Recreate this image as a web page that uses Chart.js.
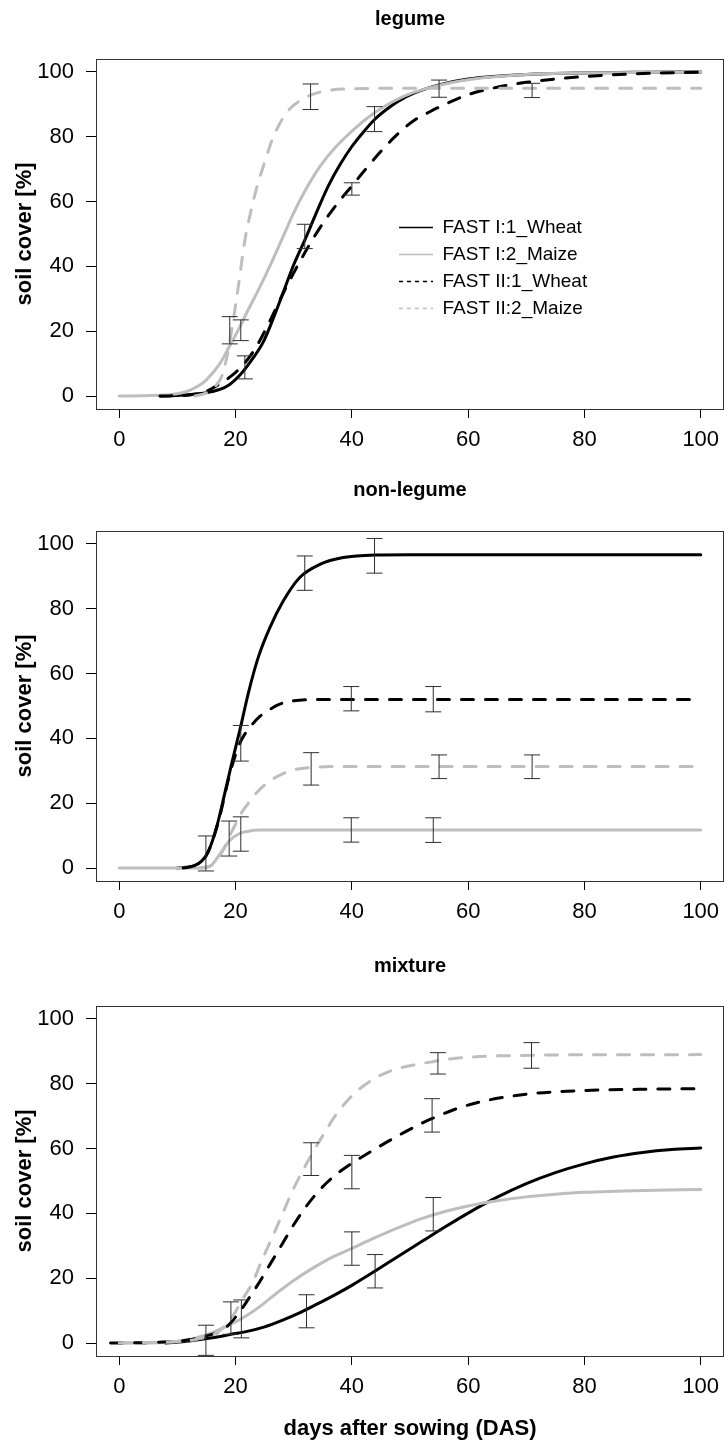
<!DOCTYPE html>
<html>
<head>
<meta charset="utf-8">
<script src="https://cdn.jsdelivr.net/npm/chart.js@4.4.1/dist/chart.umd.min.js"></script>
<style>
  html, body { margin: 0; padding: 0; background: #fff; }
  canvas { display: block; }
</style>
</head>
<body>
<canvas id="legume" width="724" height="470"></canvas>
<canvas id="nonLegume" width="724" height="470"></canvas>
<canvas id="mixture" width="724" height="503"></canvas>
<script>
// series (same order in every panel)
var seriesNames = ['FAST I:1_Wheat', 'FAST I:2_Maize', 'FAST II:1_Wheat', 'FAST II:2_Maize'];
var seriesColors = ['#000000', '#bebebe', '#000000', '#bebebe'];
var seriesDashed = [false, false, true, true];

var xTicks = [0, 20, 40, 60, 80, 100];
var yTicks = [0, 20, 40, 60, 80, 100];

// legume: fitted curves, [day, soil cover %]
var legI1 = [[7,0],[12,0.4],[16,1.4],[18.5,3],[20.8,6.6],[23,11.7],[24.8,16.8],[26.5,24],[28.2,32],[30,40.5],[32,48.5],[34,57],[36,65],[38,71.5],[40,77],[42,81.5],[44,85.5],[46,88.5],[48,91],[50.5,93.3],[55,96],[60,97.8],[70,99.2],[80,99.7],[90,99.9],[100,100]];
var legI2 = [[0,0],[8,0.3],[11.6,1.4],[13.5,3],[15,5],[17.3,10],[19,15.5],[20.5,20.5],[22,26],[24,33],[26,40.5],[28,48.5],[30,56.5],[32,63.5],[34.5,70.8],[37.3,77],[40.8,83],[43.6,87],[47,90.8],[50.5,93.6],[54,95.4],[60,97.6],[70,99.2],[80,99.7],[100,100]];
var legII1 = [[7,0],[12,0.3],[15,1.5],[17.5,4],[19.5,6.5],[21.5,10],[23.5,15],[26,23.5],[28,31],[30,38],[32,44.5],[34,50.5],[36,55.8],[38,60.5],[40,64.8],[42,69.2],[45,75.5],[47.5,80.2],[50.5,84.8],[53.5,87.8],[56,90],[60,93],[65,95.3],[70,96.8],[80,98.6],[90,99.5],[100,99.9]];
var legII2 = [[13,0],[15,1],[16.5,3],[17.6,6],[18.5,12],[19.3,20],[20,28],[20.8,38],[21.5,47],[22.5,56],[23.6,64],[24.8,71],[26.5,80],[28.8,87.5],[31.6,91.7],[35,94],[40,94.8],[50,95],[100,95]];
// legume: observations [day, low, high]
var legBars = [[19,16.1,24.5],[20.9,17.1,23.5],[21.6,5.3,12.4],[31.9,45.5,53],[32.9,88.4,96.3],[40,62,65.8],[43.9,81.6,89.3],[55,92.2,97.5],[71,92.1,96.5]];

// non-legume
var nonI1 = [[10,0],[13,0.8],[14.2,2.2],[15.3,5],[16.8,13],[18.2,23.5],[19.3,32],[20.8,43],[22.2,54],[23.9,65],[25.9,74.2],[28.2,82.4],[31,89.6],[34.5,93.7],[38.5,95.8],[44,96.6],[50,96.7],[100,96.7]];
var nonI2 = [[0,0],[14,0],[15.6,0.5],[17.3,4.3],[19,8.5],[20.5,10.5],[22,11.3],[24.2,11.7],[100,11.7]];
var nonII1 = [[11,0],[13,0.8],[15,4],[17,14],[19,29],[20,35],[21,39.5],[22.5,43.5],[24,46.5],[25.5,48.5],[27.5,50.5],[30,51.6],[35,52],[100,52]];
var nonII2 = [[14,0],[16,1],[17,3],[18,6],[19,10],[20,13.5],[21,17],[22,19.5],[23,22],[24.5,24.8],[26,27],[28,29],[30,30.3],[33,31],[37,31.3],[100,31.3]];
var nonBars = [[14.9,-0.9,9.9],[18.9,3.7,14.5],[20.9,33,44],[20.9,5.2,15.8],[31.9,85.7,96.3],[33,25.6,35.6],[39.9,48.5,56],[39.9,8,15.5],[43.9,91,101.7],[54,48.2,56],[54,7.9,15.5],[55,27.6,34.9],[71,27.6,34.9]];

// mixture
var mixI1 = [[8,0],[12,0.6],[16,1.6],[19,2.6],[22,3.6],[25,5],[28,7],[31,9.3],[34,12],[37,14.8],[40,17.8],[44,22.2],[48,26.8],[52,31.3],[56,35.8],[60,40.1],[65,45],[70,49.2],[75,52.6],[80,55.3],[85,57.4],[90,58.8],[95,59.7],[100,60.2]];
var mixI2 = [[0,0],[8,0.2],[13,1.5],[16,3.2],[18,4.8],[21,7.5],[24,11],[27,15.3],[30,19.3],[33,22.8],[36,25.9],[40,29.2],[44,32.5],[48,35.6],[52,38.4],[56,40.6],[60,42.3],[65,43.9],[70,45.1],[75,45.9],[80,46.5],[90,47.1],[100,47.4]];
var mixII1 = [[-1.5,0],[7.5,0.3],[12,1],[15,2.2],[18,4.3],[20,8],[22,13],[24,18.5],[26,24.5],[28,30.5],[30,36.5],[32,41.8],[34,46.3],[36,50],[38,53],[40,55.5],[43,58.8],[46,62],[49,65],[52,67.8],[55,70.2],[58,72.3],[62,74.4],[66,75.8],[71,77],[77,77.7],[83,78.1],[90,78.3],[100,78.5]];
var mixII2 = [[0,0],[10,0.5],[13.2,1.1],[17.2,3.7],[19.5,8.3],[21.2,13.5],[22.9,18.6],[24.6,25.8],[26.4,33],[28.1,40],[29.8,47],[31.5,53],[33.2,58.5],[35,64],[37.2,70.3],[39.5,75.3],[41.8,79.1],[44.7,82.4],[47.5,84.5],[50.4,85.7],[53.2,86.6],[56.7,87.6],[61.8,88.4],[67.5,88.7],[75,88.9],[100,89]];
var mixBars = [[14.9,-3.8,5.5],[19.2,2.7,12.7],[21,1.6,13.3],[32.2,4.7,14.9],[33,51.7,61.8],[40,47.6,57.9],[40,24,34.3],[44,17,27.3],[53.8,65.1,75.4],[54,34.6,44.9],[54.8,83,89.6],[70.9,84.8,92.7]];

var FONT = '"Liberation Sans", Arial, sans-serif';

function toXY(pairs) {
  return pairs.map(function (p) { return {x: p[0], y: p[1]}; });
}

// each bar: bottom point, top point, then a gap
function barPoints(bars) {
  var out = [];
  bars.forEach(function (b) {
    out.push({x: b[0], y: b[1]}, {x: b[0], y: b[2]}, {x: b[0], y: null});
  });
  return out;
}

var frame = {
  id: 'frame',
  beforeDatasetsDraw: function (chart) {
    var a = chart.chartArea, ctx = chart.ctx;
    ctx.save();
    ctx.strokeStyle = '#333';
    ctx.lineWidth = 1;
    ctx.strokeRect(Math.round(a.left) + 0.5, Math.round(a.top) + 0.5,
      Math.round(a.right - a.left) - 1, Math.round(a.bottom - a.top));
    ctx.restore();
  }
};

// move the legend to a spot inside the plot
var legendSpot = {
  id: 'legendSpot',
  afterLayout: function (chart, args, opts) {
    var lg = chart.legend;
    if (!lg || !opts || opts.left === undefined) return;
    var w = lg.width, h = lg.height;
    lg.left = opts.left; lg.top = opts.top;
    lg.right = opts.left + w; lg.bottom = opts.top + h;
  }
};

function makeChart(id, title, curves, bars, cfg) {
  var datasets = curves.map(function (c, i) {
    return {
      label: seriesNames[i],
      data: toXY(c),
      borderColor: seriesColors[i],
      borderWidth: 3,
      borderDash: seriesDashed[i] ? [12, 12] : [],
      borderCapStyle: 'round',
      pointRadius: 0,
      fill: false,
      cubicInterpolationMode: 'monotone',
      order: 4 - i
    };
  });
  datasets.push({
    label: 'sd',
    data: barPoints(bars),
    borderColor: '#2e2e2e',
    borderWidth: 1,
    pointStyle: 'line',
    pointRadius: 8,
    pointBorderColor: '#2e2e2e',
    pointBorderWidth: 1,
    tension: 0,
    spanGaps: false,
    order: 0
  });

  return new Chart(document.getElementById(id), {
    type: 'line',
    data: { datasets: datasets },
    plugins: [frame, legendSpot],
    options: {
      animation: false,
      responsive: false,
      events: [],
      layout: { autoPadding: false, padding: 0 },
      scales: {
        x: {
          type: 'linear', min: -4, max: 104,
          afterBuildTicks: function (s) { s.ticks = xTicks.map(function (v) { return {value: v}; }); },
          afterFit: function (s) { s.height = cfg.xHeight; s.paddingLeft = 0; s.paddingRight = 0; },
          grid: { drawOnChartArea: false, drawTicks: true, tickLength: 9, color: '#000', lineWidth: 1 },
          border: { display: false },
          ticks: { font: { family: FONT, size: 22, lineHeight: 2 }, color: '#000', padding: 0, maxRotation: 0, autoSkip: false },
          title: {
            display: !!cfg.xTitle,
            text: cfg.xTitle || '',
            font: { family: FONT, size: 22, weight: 'bold' },
            color: '#000',
            padding: { top: 0, bottom: 1 }
          }
        },
        y: {
          type: 'linear', min: -4, max: 104,
          afterBuildTicks: function (s) { s.ticks = yTicks.map(function (v) { return {value: v}; }); },
          afterFit: function (s) { s.width = 96; s.paddingTop = 0; s.paddingBottom = 0; },
          grid: { drawOnChartArea: false, drawTicks: true, tickLength: 10, color: '#000', lineWidth: 1 },
          border: { display: false },
          ticks: { font: { family: FONT, size: 22 }, color: '#000', padding: 12, autoSkip: false },
          title: {
            display: true,
            text: 'soil cover [%]',
            font: { family: FONT, size: 22, weight: 'bold' },
            color: '#000',
            padding: { top: 12, bottom: 0 }
          }
        }
      },
      plugins: {
        title: {
          display: true,
          text: title,
          fullSize: false,
          font: { family: FONT, size: 20, weight: 'bold' },
          color: '#000',
          padding: cfg.titlePad
        },
        legend: {
          display: !!cfg.legend,
          position: 'chartArea',
          align: 'start',
          labels: {
            boxWidth: 34,
            boxHeight: 0,
            padding: 8,
            color: '#000',
            font: { family: FONT, size: 19 },
            generateLabels: function () {
              return seriesNames.map(function (name, i) {
                return {
                  text: name,
                  fillStyle: 'rgba(0,0,0,0)',
                  strokeStyle: seriesColors[i],
                  lineWidth: 1.3,
                  lineDash: seriesDashed[i] ? [4, 4] : [],
                  lineCap: 'butt',
                  hidden: false,
                  datasetIndex: i
                };
              });
            }
          }
        },
        tooltip: { enabled: false },
        legendSpot: cfg.legend ? { left: 391, top: 210 } : {}
      }
    }
  });
}

makeChart('legume', 'legume', [legI1, legI2, legII1, legII2], legBars,
  { titlePad: { top: 7, bottom: 28 }, xHeight: 61, legend: true });
makeChart('nonLegume', 'non-legume', [nonI1, nonI2, nonII1, nonII2], nonBars,
  { titlePad: { top: 8, bottom: 29 }, xHeight: 59 });
makeChart('mixture', 'mixture', [mixI1, mixI2, mixII1, mixII2], mixBars,
  { titlePad: { top: 14, bottom: 28 }, xHeight: 87, xTitle: 'days after sowing (DAS)' });
</script>
</body>
</html>
